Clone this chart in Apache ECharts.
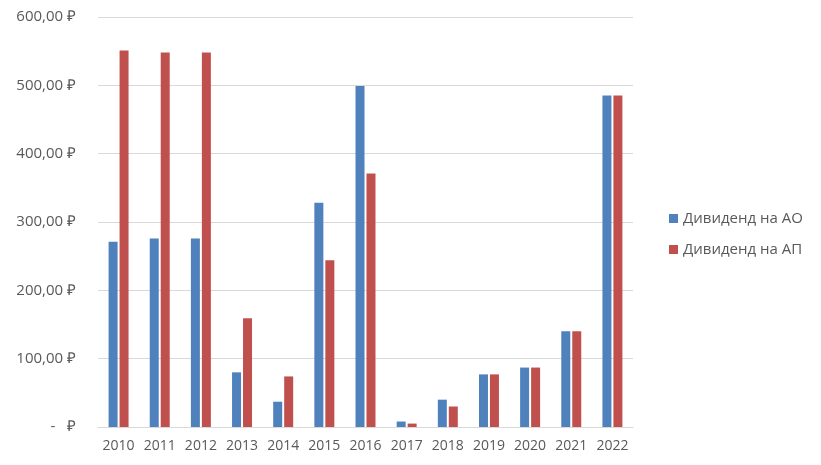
<!DOCTYPE html>
<html><head><meta charset="utf-8">
<script src="https://cdn.jsdelivr.net/npm/echarts@6/dist/echarts.min.js"></script>
<style>html,body{margin:0;padding:0;background:#fff}#c{width:821px;height:465px}</style>
</head><body><div id="c"></div>
<script>
const categories = ['2010','2011','2012','2013','2014','2015','2016','2017','2018','2019','2020','2021','2022'];
const seriesNames = ['Дивиденд на АО','Дивиденд на АП'];
const divAO = [271, 276, 276, 80, 37, 328, 499, 8, 40, 77, 87, 140, 485];
const divAP = [551, 548, 548, 159, 74, 244, 371, 5, 30, 77, 87, 140, 485];
const yTicks = [0, 100, 200, 300, 400, 500, 600];

function fmt(v){ return v === 0 ? '-   ₽' : v.toFixed(2).replace('.', ',') + ' ₽'; }

const chart = echarts.init(document.getElementById('c'));
chart.setOption({
  animation: false,
  textStyle: {fontFamily: 'Open Sans, Liberation Sans, sans-serif'},
  grid: {left: 98, right: 188, top: 17, bottom: 38},
  legend: {
    orient: 'vertical', left: 664, top: 206, itemGap: 16,
    itemWidth: 9, itemHeight: 9, icon: 'rect',
    textStyle: {fontSize: 15, color: '#595959', fontFamily: 'Open Sans, Liberation Sans, sans-serif'},
    data: seriesNames
  },
  xAxis: {
    type: 'category', data: categories,
    axisLine: {lineStyle: {color: '#d9d9d9'}},
    axisTick: {show: false},
    axisLabel: {fontSize: 14, color: '#595959', margin: 12, interval: 0}
  },
  yAxis: {
    type: 'value', min: yTicks[0], max: yTicks[yTicks.length-1], interval: 100,
    axisLine: {show: false}, axisTick: {show: false},
    splitLine: {lineStyle: {color: '#d9d9d9', width: 1}},
    axisLabel: {fontSize: 15, color: '#595959', margin: 22, formatter: fmt}
  },
  series: [
    {name: seriesNames[0], type: 'bar', data: divAO, barWidth: 9, barGap: '22%', itemStyle: {color: '#4f81bd'}},
    {name: seriesNames[1], type: 'bar', data: divAP, barWidth: 9, barGap: '22%', itemStyle: {color: '#c0504d'}}
  ]
});
</script></body></html>
